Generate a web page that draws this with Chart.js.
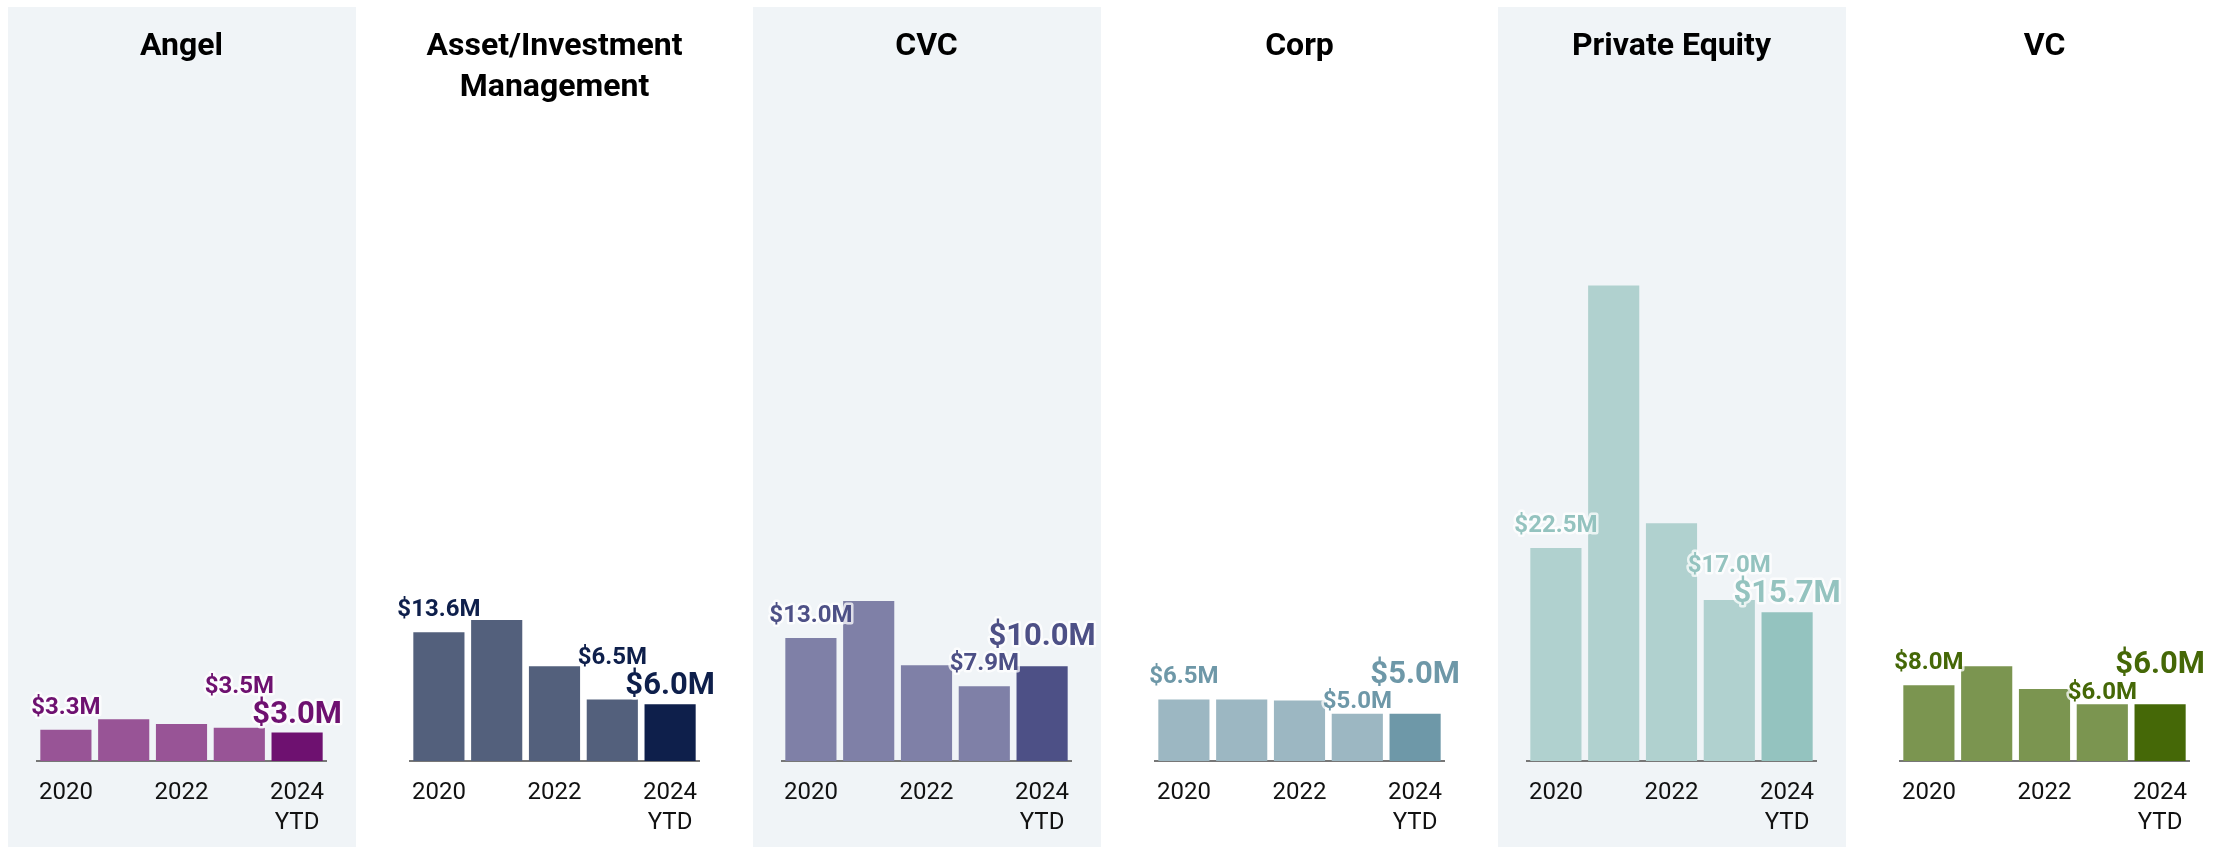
<!DOCTYPE html>
<html>
<head>
<meta charset="utf-8">
<title>Median deal size by investor type</title>
<script src="https://cdn.jsdelivr.net/npm/chart.js@4.4.1/dist/chart.umd.min.js"></script>
<style>
  html, body { margin: 0; padding: 0; background: #fff; overflow: hidden; }
  #row { position: relative; width: 2226px; height: 847px; }
  .panel { position: absolute; top: 7px; width: 348px; height: 840px; }
  .panel.shade { background: #f0f4f7; }
</style>
</head>
<body>
<div id="row"></div>
<script>
// years on the x axis
const categories = ['2020', '2021', '2022', '2023', '2024 YTD'];

// investor types, one small chart each
const groups = ['Angel', 'Asset/Investment Management', 'CVC', 'Corp', 'Private Equity', 'VC'];

// median deal size, $M
const angel = [3.3, 4.4, 3.9, 3.5, 3.0];
const assetInvestment = [13.6, 14.9, 10.0, 6.5, 6.0];
const cvc = [13.0, 16.9, 10.1, 7.9, 10.0];
const corp = [6.5, 6.5, 6.4, 5.0, 5.0];
const privateEquity = [22.5, 50.2, 25.1, 17.0, 15.7];
const vc = [8.0, 10.0, 7.6, 6.0, 6.0];

const series = [angel, assetInvestment, cvc, corp, privateEquity, vc];

const barColors = ['#985496', '#53607c', '#7f80a7', '#9cb7c2', '#b0d1cf', '#7b9550'];
const ytdColors = ['#6e1170', '#0e1f4b', '#4d5086', '#6e98a8', '#94c3bf', '#456807'];

Chart.defaults.font.family = 'Roboto';
Chart.defaults.color = '#111';

function wrapTitle(name) {
    const words = name.split(' ');
    const lines = [];
    let cur = '';
    words.forEach(function (w) {
        if (cur && (cur + ' ' + w).length > 18) {
            lines.push(cur);
            cur = w;
        } else {
            cur = cur ? cur + ' ' + w : w;
        }
    });
    lines.push(cur);
    while (lines.length < 2) lines.push('');
    return lines;
}

// labels on first, second-to-last and last bar, last one larger
const valueLabels = {
    id: 'valueLabels',
    afterDatasetsDraw(chart, args, opts) {
        const ctx = chart.ctx;
        const bars = chart.getDatasetMeta(0).data;
        const vals = chart.data.datasets[0].data;
        const last = vals.length - 1;
        const gap = 8;
        const items = [0, last - 1, last].map(function (i) {
            const big = i === last;
            const size = big ? 31 : 24;
            ctx.font = 'bold ' + size + 'px Roboto';
            const text = '$' + vals[i].toFixed(1) + 'M';
            return {
                i: i, text: text, size: size, cap: size * 0.711,
                w: ctx.measureText(text).width,
                x: bars[i].x, y: bars[i].y - (big ? 10 : 16)
            };
        });
        // keep the last two labels from sitting on each other
        const a = items[1], b = items[2];
        const xOverlap = Math.abs(a.x - b.x) < (a.w + b.w) / 2;
        const yOverlap = a.y > b.y - b.cap - gap && b.y > a.y - a.cap - gap;
        if (xOverlap && yOverlap) {
            if (vals[a.i] > vals[b.i]) {
                a.y = b.y - b.cap - gap;
            } else if (vals[a.i] < vals[b.i]) {
                b.y = a.y - a.cap - gap;
            } else {
                // same height: big label goes up, small one drops a bit
                const shift = b.y - (a.y - a.cap - gap);
                a.y += shift / 3;
                b.y -= shift * 2 / 3;
            }
        }
        ctx.save();
        ctx.textAlign = 'center';
        ctx.textBaseline = 'alphabetic';
        ctx.lineJoin = 'round';
        items.forEach(function (it) {
            ctx.font = 'bold ' + it.size + 'px Roboto';
            ctx.strokeStyle = 'rgba(255,255,255,0.75)';
            ctx.lineWidth = 5;
            ctx.strokeText(it.text, it.x, it.y);
            ctx.fillStyle = opts.color;
            ctx.fillText(it.text, it.x, it.y);
        });
        ctx.restore();
    }
};

function draw() {
    const row = document.getElementById('row');
    groups.forEach(function (name, g) {
        const panel = document.createElement('div');
        panel.className = 'panel' + (g % 2 === 0 ? ' shade' : '');
        panel.style.left = (8 + g * 372.6) + 'px';
        const canvas = document.createElement('canvas');
        panel.appendChild(canvas);
        row.appendChild(panel);

        const colors = series[g].map(function (v, i) {
            return i === series[g].length - 1 ? ytdColors[g] : barColors[g];
        });

        new Chart(canvas, {
            type: 'bar',
            data: {
                labels: categories,
                datasets: [{
                    label: name,
                    data: series[g],
                    backgroundColor: colors,
                    borderWidth: 0,
                    barPercentage: 0.885,
                    categoryPercentage: 1
                }]
            },
            options: {
                responsive: true,
                maintainAspectRatio: false,
                animation: false,
                layout: { padding: { left: 29, right: 30, top: 0, bottom: 0 } },
                plugins: {
                    legend: { display: false },
                    tooltip: { enabled: false },
                    title: {
                        display: true,
                        text: wrapTitle(name),
                        color: '#000',
                        font: { size: 32, weight: 'bold', lineHeight: 1.281 },
                        padding: { top: 19.5, bottom: 84.3 }
                    },
                    valueLabels: { color: ytdColors[g] }
                },
                scales: {
                    x: {
                        grid: { display: false, drawTicks: false },
                        border: { display: true, color: '#777', width: 2 },
                        ticks: {
                            autoSkip: false,
                            maxRotation: 0,
                            padding: 17.4,
                            color: '#111',
                            font: { size: 24, lineHeight: 1.24 },
                            callback: function (v, i) {
                                return i % 2 ? '' : categories[i].split(' ');
                            }
                        },
                        afterFit: function (scale) { scale.height = 86; }
                    },
                    y: { display: false, min: 0, max: 60 }
                }
            },
            plugins: [valueLabels]
        });
    });
}

if (document.fonts && document.fonts.load) {
    Promise.all([
        document.fonts.load('bold 32px Roboto'),
        document.fonts.load('24px Roboto')
    ]).then(draw, draw);
} else {
    draw();
}
</script>
</body>
</html>
